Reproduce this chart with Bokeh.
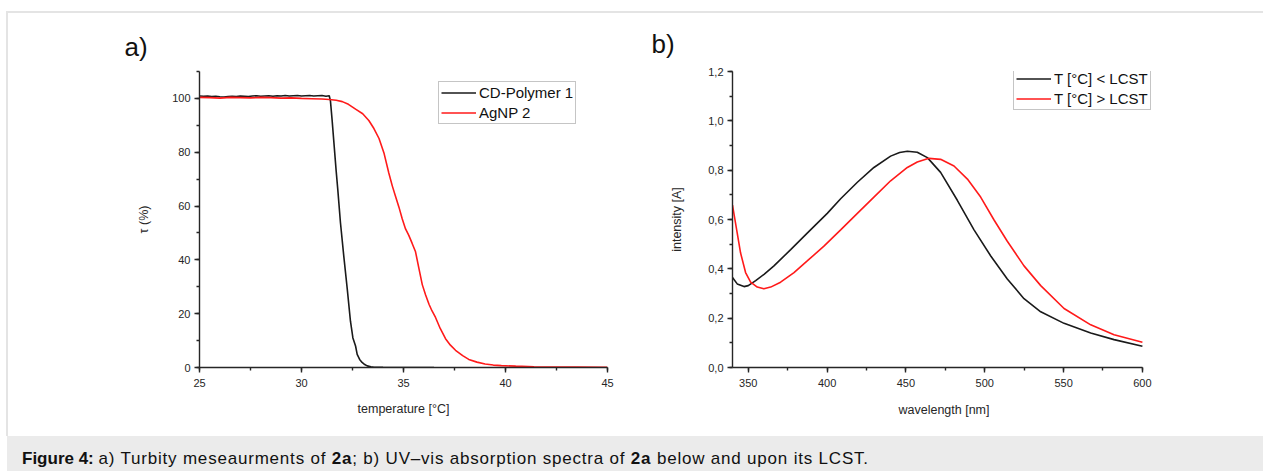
from bokeh.plotting import figure
from bokeh.models import (Legend, LegendItem, SingleIntervalTicker, Range1d,
                          CustomJSTickFormatter, Div)
from bokeh.layouts import row, column
from bokeh.embed import file_html
from bokeh.resources import INLINE

# ---------------- Panel a: turbidity ----------------
temp_cd = [25.0, 25.2, 25.4, 25.6, 25.8, 26.0, 26.2, 26.4, 26.6, 26.8, 27.0, 27.2,
           27.4, 27.6, 27.8, 28.0, 28.2, 28.4, 28.6, 28.8, 29.0, 29.2, 29.4, 29.6,
           29.8, 30.0, 30.2, 30.4, 30.6, 30.8, 31.0, 31.2, 31.36, 31.42, 31.5, 31.58,
           31.7, 31.78, 31.91, 32.07, 32.24, 32.4, 32.52, 32.65, 32.73, 32.85, 32.97,
           33.1, 33.22, 33.4, 33.55, 34.0, 35.0, 36.5]
tau_cd = [100.9, 100.8, 100.9, 100.7, 100.8, 100.6, 100.5, 100.7, 100.8, 100.7, 100.9, 100.8,
          100.7, 100.9, 101.0, 100.8, 100.9, 101.0, 100.8, 101.0, 100.9, 101.1, 100.9, 101.0,
          101.1, 100.9, 101.0, 101.1, 100.9, 101.0, 101.1, 100.8, 101.0, 99.0, 92.0, 84.4,
          73.0, 66.0, 53.8, 41.6, 29.4, 17.2, 11.0, 8.0, 4.9, 3.0, 1.9,
          1.1, 0.6, 0.3, 0.1, 0.05, 0.0, 0.0]

temp_ag = [25.0, 25.5, 26.0, 26.5, 27.0, 27.5, 28.0, 28.5, 29.0, 29.5, 30.0, 30.5, 31.0,
           31.36, 31.7, 32.0, 32.3, 32.65, 33.0, 33.3, 33.55, 33.8, 34.05, 34.28, 34.45,
           34.6, 34.78, 34.94, 35.1, 35.26, 35.42, 35.59, 35.75, 35.92, 36.08, 36.25, 36.4,
           36.57, 36.8, 37.06, 37.3, 37.55, 37.9, 38.2, 38.6, 39.0, 39.4, 39.8, 40.5, 41.4,
           42.5, 43.5, 45.0]
tau_ag = [100.4, 100.3, 100.1, 100.4, 100.3, 100.2, 100.4, 100.3, 100.1, 100.2, 100.0, 99.9, 99.8,
          99.6, 99.3, 98.8, 97.8, 96.0, 94.3, 91.8, 88.8, 85.1, 79.5, 72.3, 67.5,
          63.8, 59.5, 55.2, 51.5, 49.1, 46.2, 43.0, 37.0, 30.8, 27.0, 23.5, 21.0,
          18.6, 14.5, 10.7, 8.3, 6.4, 4.4, 3.0, 2.0, 1.3, 0.9, 0.7, 0.5, 0.3,
          0.2, 0.15, 0.1]

# ---------------- Panel b: UV-vis ----------------
wl_below = [340, 343, 347.3, 350, 354.7, 360, 366.3, 376.9, 387.4, 400.1, 408.6, 419.2,
            429.7, 440.3, 446, 450.9, 457.2, 463.6, 472, 482.6, 493.2, 503.8, 514.3, 524.9,
            535.5, 550.3, 567.2, 582, 600]
int_below = [0.365, 0.339, 0.328, 0.332, 0.352, 0.378, 0.412, 0.478, 0.545, 0.625, 0.684, 0.751,
             0.811, 0.857, 0.872, 0.877, 0.873, 0.851, 0.791, 0.678, 0.558, 0.452, 0.359, 0.279,
             0.226, 0.179, 0.140, 0.113, 0.086]

wl_above = [340, 343, 345.1, 348.3, 351.5, 355.7, 359.9, 364.2, 370.5, 379, 387.4, 398,
            408.6, 419.2, 429.7, 440.3, 450.9, 457.2, 464.6, 472, 480.5, 489, 497.4, 505.9,
            514.3, 524.9, 535.5, 550.3, 567.2, 582, 600]
int_above = [0.658, 0.545, 0.465, 0.385, 0.346, 0.326, 0.319, 0.326, 0.346, 0.385, 0.432, 0.492,
             0.558, 0.625, 0.691, 0.757, 0.811, 0.833, 0.848, 0.844, 0.817, 0.764, 0.691, 0.598,
             0.512, 0.412, 0.332, 0.239, 0.173, 0.133, 0.102]

labels_a = ["CD-Polymer 1", "AgNP 2"]
labels_b = ["T [°C] < LCST", "T [°C] > LCST"]
caption_html = ('<b>Figure 4:</b> <span style="letter-spacing:0.8px">a) Turbity meseaurments of '
                '<b>2a</b>; b) UV–vis absorption spectra of <b>2a</b> below and upon its LCST.</span>')

FONT = "Liberation Sans"
AX = "#262626"
BLACK = "#1a1a1a"
RED = "#ff1a1a"


def style_axis(ax):
    ax.axis_line_color = AX
    ax.axis_line_width = 1.4
    ax.major_tick_line_color = AX
    ax.major_tick_line_width = 1.4
    ax.major_tick_out = 5
    ax.major_tick_in = 0
    ax.minor_tick_line_color = AX
    ax.minor_tick_line_width = 1.4
    ax.minor_tick_out = 3
    ax.minor_tick_in = 0
    ax.major_label_text_font = FONT
    ax.major_label_text_font_size = "11px"
    ax.major_label_text_color = AX
    ax.major_label_standoff = 4
    ax.axis_label_text_font = FONT
    ax.axis_label_text_font_size = "12.5px"
    ax.axis_label_text_font_style = "normal"
    ax.axis_label_text_color = AX


def style_legend(lg):
    lg.border_line_color = "#8c8c8c"
    lg.border_line_width = 1
    lg.background_fill_color = "white"
    lg.background_fill_alpha = 1
    lg.label_text_font = FONT
    lg.label_text_font_size = "15px"
    lg.label_text_color = "#111111"
    lg.padding = 2
    lg.spacing = 3
    lg.margin = 0
    lg.glyph_width = 35
    lg.glyph_height = 15
    lg.label_height = 15
    lg.label_standoff = 3


def style_title(p, text, offset, standoff):
    p.title.text = text
    p.title.align = "left"
    p.title.offset = offset
    p.title.standoff = standoff
    p.title.text_font = FONT
    p.title.text_font_size = "26px"
    p.title.text_font_style = "normal"
    p.title.text_color = "#111111"


# ---------- figure a ----------
pa = figure(width=622, height=423, x_range=Range1d(25, 45), y_range=Range1d(0, 110),
            output_backend="svg", toolbar_location=None,
            min_border_left=191, min_border_right=23, min_border_top=54, min_border_bottom=69)
pa.outline_line_color = None
pa.grid.visible = False
pa.xaxis.ticker = SingleIntervalTicker(interval=5, num_minor_ticks=2)
pa.yaxis.ticker = SingleIntervalTicker(interval=20, num_minor_ticks=2)
pa.xaxis.axis_label = "temperature [°C]"
pa.yaxis.axis_label = "τ (%)"
for ax in (pa.xaxis[0], pa.yaxis[0]):
    style_axis(ax)
pa.xaxis.major_label_standoff = 6
pa.yaxis.axis_label_standoff = 18
pa.xaxis.axis_label_standoff = 12
style_title(pa, "a)", -75, 20)

ra1 = pa.line(temp_cd, tau_cd, line_color=BLACK, line_width=1.6)
ra2 = pa.line(temp_ag, tau_ag, line_color=RED, line_width=1.6)
lga = Legend(items=[LegendItem(label=labels_a[0], renderers=[ra1]),
                    LegendItem(label=labels_a[1], renderers=[ra2])],
             location=(239, 243))
style_legend(lga)
pa.add_layout(lga)

# ---------- figure b ----------
# frame extends a little past 600 nm so the legend box fits; the axis stops at 600
pb = figure(width=633, height=423, x_range=Range1d(340, 608.3), y_range=Range1d(0, 1.2001),
            output_backend="svg", toolbar_location=None,
            min_border_left=102, min_border_right=108, min_border_top=56, min_border_bottom=66)
pb.outline_line_color = None
pb.grid.visible = False
pb.xaxis.ticker = SingleIntervalTicker(interval=50, num_minor_ticks=2)
pb.xaxis.bounds = (340, 600)
pb.yaxis.ticker = SingleIntervalTicker(interval=0.2, num_minor_ticks=2)
pb.yaxis.formatter = CustomJSTickFormatter(code="return tick.toFixed(1).replace('.', ',');")
pb.xaxis.axis_label = "wavelength [nm]"
pb.yaxis.axis_label = "intensity [A]"
for ax in (pb.xaxis[0], pb.yaxis[0]):
    style_axis(ax)
pb.xaxis.major_label_standoff = 6
pb.yaxis.axis_label_standoff = 21
pb.xaxis.axis_label_standoff = 13
style_title(pb, "b)", -81, 26)

rb1 = pb.line(wl_below, int_below, line_color=BLACK, line_width=1.6)
rb2 = pb.line(wl_above, int_above, line_color=RED, line_width=1.6)
lgb = Legend(items=[LegendItem(label=labels_b[0], renderers=[rb1]),
                    LegendItem(label=labels_b[1], renderers=[rb2])],
             location=(281, 257))
style_legend(lgb)
pb.add_layout(lgb)

charts = row(pa, pb, margin=(11, 0, 0, 6),
             styles={"border-top": "2px solid #e4e4e4",
                     "border-left": "2px solid #e4e4e4"})

caption = Div(text=caption_html, width=1256, height=35, margin=(0, 0, 0, 7),
              styles={"background-color": "#ebebeb",
                      "font-family": "'Liberation Sans', Arial, sans-serif",
                      "font-size": "17px", "color": "#111111",
                      "padding": "11px 0 0 15px", "box-sizing": "border-box"})

layout = column(charts, caption)

open("out.html", "w").write(file_html(layout, INLINE))
